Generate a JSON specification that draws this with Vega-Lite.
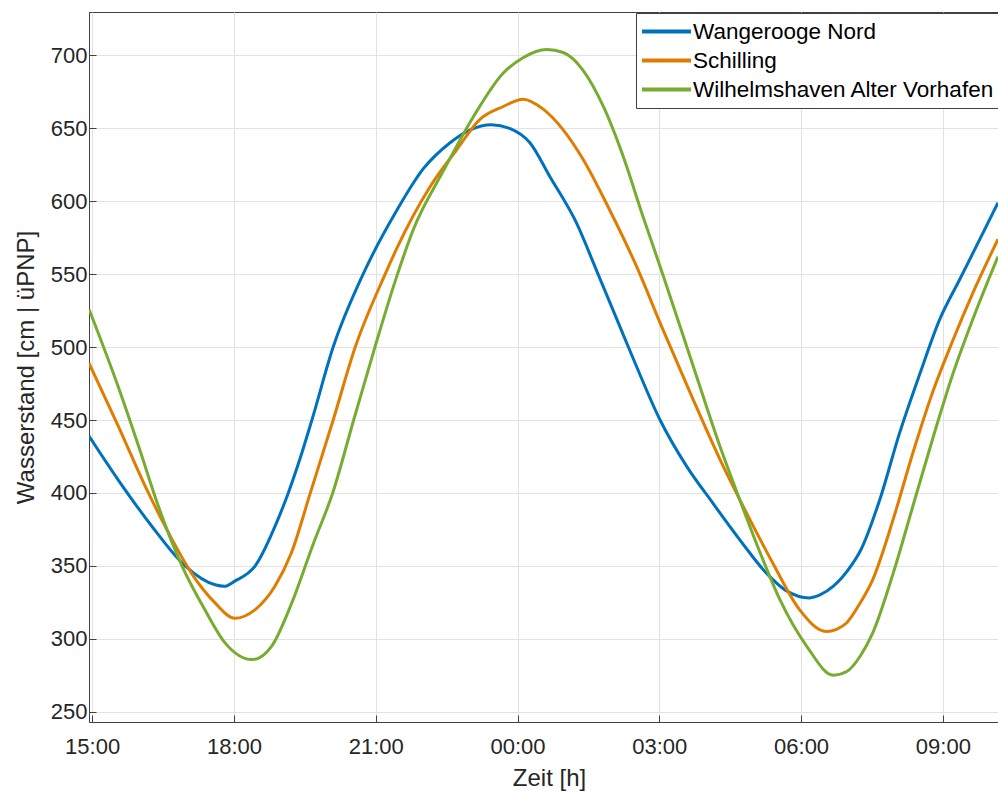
{
  "$schema": "https://vega.github.io/schema/vega-lite/v6.json",
  "width": 909,
  "height": 710,
  "autosize": {"type": "none"},
  "padding": {"left": 89, "top": 12, "right": 0, "bottom": 69},
  "background": "white",
  "config": {
    "font": "Liberation Sans",
    "view": {"stroke": "#404040"},
    "axis": {
      "domainColor": "#404040",
      "tickColor": "#404040",
      "labelColor": "#262626",
      "titleColor": "#262626",
      "titleFontWeight": "normal",
      "gridColor": "#e2e2e2",
      "gridWidth": 1
    }
  },
  "data": {
    "values": [
      {"station": "Wangerooge Nord", "t": "2023-01-01T14:56", "v": 439},
      {"station": "Wangerooge Nord", "t": "2023-01-01T15:33", "v": 409},
      {"station": "Wangerooge Nord", "t": "2023-01-01T16:16", "v": 377},
      {"station": "Wangerooge Nord", "t": "2023-01-01T16:58", "v": 350},
      {"station": "Wangerooge Nord", "t": "2023-01-01T17:36", "v": 337},
      {"station": "Wangerooge Nord", "t": "2023-01-01T17:48", "v": 336},
      {"station": "Wangerooge Nord", "t": "2023-01-01T18:01", "v": 339.5},
      {"station": "Wangerooge Nord", "t": "2023-01-01T18:27", "v": 350},
      {"station": "Wangerooge Nord", "t": "2023-01-01T18:56", "v": 382},
      {"station": "Wangerooge Nord", "t": "2023-01-01T19:09", "v": 400},
      {"station": "Wangerooge Nord", "t": "2023-01-01T19:26", "v": 427},
      {"station": "Wangerooge Nord", "t": "2023-01-01T19:39", "v": 450},
      {"station": "Wangerooge Nord", "t": "2023-01-01T20:06", "v": 500},
      {"station": "Wangerooge Nord", "t": "2023-01-01T20:44", "v": 550},
      {"station": "Wangerooge Nord", "t": "2023-01-01T21:27", "v": 594},
      {"station": "Wangerooge Nord", "t": "2023-01-01T22:00", "v": 622},
      {"station": "Wangerooge Nord", "t": "2023-01-01T22:34", "v": 640},
      {"station": "Wangerooge Nord", "t": "2023-01-01T23:00", "v": 649},
      {"station": "Wangerooge Nord", "t": "2023-01-01T23:27", "v": 652.5},
      {"station": "Wangerooge Nord", "t": "2023-01-01T23:50", "v": 650},
      {"station": "Wangerooge Nord", "t": "2023-01-02T00:16", "v": 640},
      {"station": "Wangerooge Nord", "t": "2023-01-02T00:41", "v": 617},
      {"station": "Wangerooge Nord", "t": "2023-01-02T01:15", "v": 585},
      {"station": "Wangerooge Nord", "t": "2023-01-02T01:40", "v": 553},
      {"station": "Wangerooge Nord", "t": "2023-01-02T02:10", "v": 514},
      {"station": "Wangerooge Nord", "t": "2023-01-02T02:27", "v": 492},
      {"station": "Wangerooge Nord", "t": "2023-01-02T03:01", "v": 450},
      {"station": "Wangerooge Nord", "t": "2023-01-02T03:35", "v": 418},
      {"station": "Wangerooge Nord", "t": "2023-01-02T04:08", "v": 393},
      {"station": "Wangerooge Nord", "t": "2023-01-02T04:42", "v": 368},
      {"station": "Wangerooge Nord", "t": "2023-01-02T05:16", "v": 345},
      {"station": "Wangerooge Nord", "t": "2023-01-02T05:41", "v": 333},
      {"station": "Wangerooge Nord", "t": "2023-01-02T06:11", "v": 328},
      {"station": "Wangerooge Nord", "t": "2023-01-02T06:24", "v": 330},
      {"station": "Wangerooge Nord", "t": "2023-01-02T06:41", "v": 336},
      {"station": "Wangerooge Nord", "t": "2023-01-02T06:52", "v": 342},
      {"station": "Wangerooge Nord", "t": "2023-01-02T07:06", "v": 352},
      {"station": "Wangerooge Nord", "t": "2023-01-02T07:15", "v": 360},
      {"station": "Wangerooge Nord", "t": "2023-01-02T07:40", "v": 395.5},
      {"station": "Wangerooge Nord", "t": "2023-01-02T08:05", "v": 441},
      {"station": "Wangerooge Nord", "t": "2023-01-02T08:31", "v": 482},
      {"station": "Wangerooge Nord", "t": "2023-01-02T08:56", "v": 519},
      {"station": "Wangerooge Nord", "t": "2023-01-02T09:21", "v": 546},
      {"station": "Wangerooge Nord", "t": "2023-01-02T09:47", "v": 574},
      {"station": "Wangerooge Nord", "t": "2023-01-02T10:10", "v": 599},
      {"station": "Schilling", "t": "2023-01-01T14:56", "v": 489},
      {"station": "Schilling", "t": "2023-01-01T15:33", "v": 446},
      {"station": "Schilling", "t": "2023-01-01T16:07", "v": 405},
      {"station": "Schilling", "t": "2023-01-01T16:37", "v": 372.6},
      {"station": "Schilling", "t": "2023-01-01T17:06", "v": 345},
      {"station": "Schilling", "t": "2023-01-01T17:36", "v": 324.6},
      {"station": "Schilling", "t": "2023-01-01T18:01", "v": 314},
      {"station": "Schilling", "t": "2023-01-01T18:27", "v": 320},
      {"station": "Schilling", "t": "2023-01-01T18:52", "v": 336},
      {"station": "Schilling", "t": "2023-01-01T19:13", "v": 359},
      {"station": "Schilling", "t": "2023-01-01T19:37", "v": 400},
      {"station": "Schilling", "t": "2023-01-01T20:06", "v": 450},
      {"station": "Schilling", "t": "2023-01-01T20:34", "v": 500},
      {"station": "Schilling", "t": "2023-01-01T21:12", "v": 550},
      {"station": "Schilling", "t": "2023-01-01T21:27", "v": 568},
      {"station": "Schilling", "t": "2023-01-01T22:09", "v": 610},
      {"station": "Schilling", "t": "2023-01-01T22:43", "v": 635.5},
      {"station": "Schilling", "t": "2023-01-01T23:12", "v": 656},
      {"station": "Schilling", "t": "2023-01-01T23:42", "v": 665},
      {"station": "Schilling", "t": "2023-01-02T00:07", "v": 670},
      {"station": "Schilling", "t": "2023-01-02T00:33", "v": 663},
      {"station": "Schilling", "t": "2023-01-02T00:58", "v": 649},
      {"station": "Schilling", "t": "2023-01-02T01:23", "v": 629},
      {"station": "Schilling", "t": "2023-01-02T01:57", "v": 594},
      {"station": "Schilling", "t": "2023-01-02T02:31", "v": 555.5},
      {"station": "Schilling", "t": "2023-01-02T03:03", "v": 514},
      {"station": "Schilling", "t": "2023-01-02T03:43", "v": 464},
      {"station": "Schilling", "t": "2023-01-02T04:17", "v": 423},
      {"station": "Schilling", "t": "2023-01-02T04:51", "v": 386},
      {"station": "Schilling", "t": "2023-01-02T05:24", "v": 352},
      {"station": "Schilling", "t": "2023-01-02T05:58", "v": 320},
      {"station": "Schilling", "t": "2023-01-02T06:32", "v": 305},
      {"station": "Schilling", "t": "2023-01-02T06:45", "v": 306.5},
      {"station": "Schilling", "t": "2023-01-02T06:58", "v": 311},
      {"station": "Schilling", "t": "2023-01-02T07:15", "v": 324.5},
      {"station": "Schilling", "t": "2023-01-02T07:31", "v": 340.6},
      {"station": "Schilling", "t": "2023-01-02T07:57", "v": 382},
      {"station": "Schilling", "t": "2023-01-02T08:22", "v": 427.5},
      {"station": "Schilling", "t": "2023-01-02T08:47", "v": 469},
      {"station": "Schilling", "t": "2023-01-02T09:13", "v": 505},
      {"station": "Schilling", "t": "2023-01-02T09:38", "v": 537},
      {"station": "Schilling", "t": "2023-01-02T10:10", "v": 574},
      {"station": "Wilhelmshaven Alter Vorhafen", "t": "2023-01-01T14:56", "v": 526},
      {"station": "Wilhelmshaven Alter Vorhafen", "t": "2023-01-01T15:33", "v": 473},
      {"station": "Wilhelmshaven Alter Vorhafen", "t": "2023-01-01T15:59", "v": 432},
      {"station": "Wilhelmshaven Alter Vorhafen", "t": "2023-01-01T16:24", "v": 391},
      {"station": "Wilhelmshaven Alter Vorhafen", "t": "2023-01-01T16:54", "v": 350},
      {"station": "Wilhelmshaven Alter Vorhafen", "t": "2023-01-01T17:23", "v": 320},
      {"station": "Wilhelmshaven Alter Vorhafen", "t": "2023-01-01T17:49", "v": 297},
      {"station": "Wilhelmshaven Alter Vorhafen", "t": "2023-01-01T18:23", "v": 285.7},
      {"station": "Wilhelmshaven Alter Vorhafen", "t": "2023-01-01T18:48", "v": 295},
      {"station": "Wilhelmshaven Alter Vorhafen", "t": "2023-01-01T19:13", "v": 324},
      {"station": "Wilhelmshaven Alter Vorhafen", "t": "2023-01-01T19:40", "v": 364},
      {"station": "Wilhelmshaven Alter Vorhafen", "t": "2023-01-01T20:06", "v": 401},
      {"station": "Wilhelmshaven Alter Vorhafen", "t": "2023-01-01T20:32", "v": 450},
      {"station": "Wilhelmshaven Alter Vorhafen", "t": "2023-01-01T20:59", "v": 500},
      {"station": "Wilhelmshaven Alter Vorhafen", "t": "2023-01-01T21:27", "v": 549},
      {"station": "Wilhelmshaven Alter Vorhafen", "t": "2023-01-01T21:48", "v": 581},
      {"station": "Wilhelmshaven Alter Vorhafen", "t": "2023-01-01T22:26", "v": 621},
      {"station": "Wilhelmshaven Alter Vorhafen", "t": "2023-01-01T23:04", "v": 658},
      {"station": "Wilhelmshaven Alter Vorhafen", "t": "2023-01-01T23:42", "v": 688},
      {"station": "Wilhelmshaven Alter Vorhafen", "t": "2023-01-02T00:07", "v": 698.4},
      {"station": "Wilhelmshaven Alter Vorhafen", "t": "2023-01-02T00:37", "v": 704},
      {"station": "Wilhelmshaven Alter Vorhafen", "t": "2023-01-02T00:58", "v": 702},
      {"station": "Wilhelmshaven Alter Vorhafen", "t": "2023-01-02T01:23", "v": 690},
      {"station": "Wilhelmshaven Alter Vorhafen", "t": "2023-01-02T01:49", "v": 665},
      {"station": "Wilhelmshaven Alter Vorhafen", "t": "2023-01-02T02:14", "v": 631},
      {"station": "Wilhelmshaven Alter Vorhafen", "t": "2023-01-02T02:39", "v": 590},
      {"station": "Wilhelmshaven Alter Vorhafen", "t": "2023-01-02T03:05", "v": 549},
      {"station": "Wilhelmshaven Alter Vorhafen", "t": "2023-01-02T03:43", "v": 487},
      {"station": "Wilhelmshaven Alter Vorhafen", "t": "2023-01-02T04:17", "v": 432},
      {"station": "Wilhelmshaven Alter Vorhafen", "t": "2023-01-02T04:42", "v": 395.5},
      {"station": "Wilhelmshaven Alter Vorhafen", "t": "2023-01-02T05:08", "v": 359},
      {"station": "Wilhelmshaven Alter Vorhafen", "t": "2023-01-02T05:33", "v": 327},
      {"station": "Wilhelmshaven Alter Vorhafen", "t": "2023-01-02T06:07", "v": 295},
      {"station": "Wilhelmshaven Alter Vorhafen", "t": "2023-01-02T06:41", "v": 275},
      {"station": "Wilhelmshaven Alter Vorhafen", "t": "2023-01-02T06:58", "v": 277.5},
      {"station": "Wilhelmshaven Alter Vorhafen", "t": "2023-01-02T07:15", "v": 288},
      {"station": "Wilhelmshaven Alter Vorhafen", "t": "2023-01-02T07:31", "v": 304},
      {"station": "Wilhelmshaven Alter Vorhafen", "t": "2023-01-02T07:57", "v": 345},
      {"station": "Wilhelmshaven Alter Vorhafen", "t": "2023-01-02T08:22", "v": 391},
      {"station": "Wilhelmshaven Alter Vorhafen", "t": "2023-01-02T08:47", "v": 437},
      {"station": "Wilhelmshaven Alter Vorhafen", "t": "2023-01-02T09:13", "v": 482},
      {"station": "Wilhelmshaven Alter Vorhafen", "t": "2023-01-02T09:38", "v": 519},
      {"station": "Wilhelmshaven Alter Vorhafen", "t": "2023-01-02T10:10", "v": 562}
    ]
  },
  "mark": {"type": "line", "strokeWidth": 3, "interpolate": "monotone", "clip": true},
  "encoding": {
    "x": {
      "field": "t",
      "type": "temporal",
      "scale": {"nice": false},
      "axis": {
        "title": "Zeit [h]",
        "format": "%H:%M",
        "tickCount": 7,
        "grid": true,
        "tickSize": -7,
        "labelPadding": 21,
        "labelFontSize": 22,
        "titleFontSize": 24,
        "titlePadding": 9,
        "titleX": 460
      }
    },
    "y": {
      "field": "v",
      "type": "quantitative",
      "scale": {"domain": [242.9, 729.8], "nice": false, "zero": false},
      "axis": {
        "title": "Wasserstand [cm | üPNP]",
        "values": [250, 300, 350, 400, 450, 500, 550, 600, 650, 700],
        "grid": true,
        "tickSize": -7,
        "labelPadding": 9,
        "labelFontSize": 22,
        "titleFontSize": 24,
        "titlePadding": 12
      }
    },
    "color": {
      "field": "station",
      "type": "nominal",
      "scale": {
        "domain": ["Wangerooge Nord", "Schilling", "Wilhelmshaven Alter Vorhafen"],
        "range": ["#0072BD", "#E07C00", "#77AC30"]
      },
      "legend": {
        "orient": "none",
        "legendX": 547,
        "legendY": 1,
        "title": null,
        "symbolType": "stroke",
        "symbolSize": 2401,
        "symbolStrokeWidth": 4,
        "labelFontSize": 22.5,
        "labelColor": "#000000",
        "labelOffset": 0,
        "labelLimit": 500,
        "padding": 4,
        "strokeColor": "#404040",
        "fillColor": "white",
        "clipHeight": 29,
        "rowPadding": 0
      }
    }
  }
}
